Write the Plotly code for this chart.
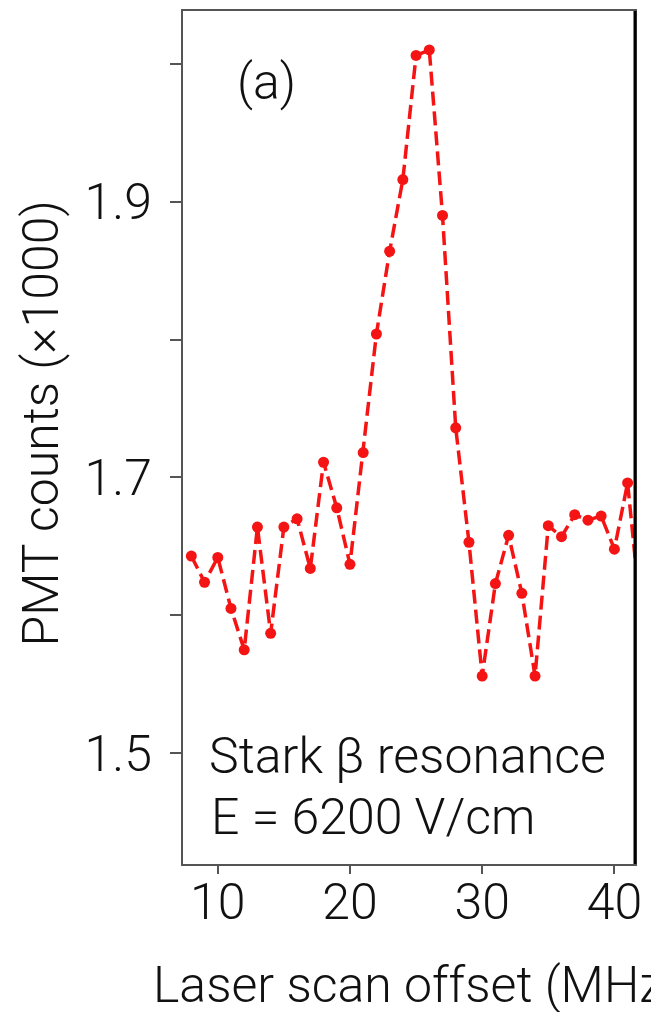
import plotly.graph_objects as go

# Laser scan offset (MHz) and PMT counts (in thousands)
offset_mhz = [8, 9, 10, 11, 12, 13, 14, 15, 16, 17, 18, 19, 20, 21, 22, 23, 24, 25,
              26, 27, 28, 29, 30, 31, 32, 33, 34, 35, 36, 37, 38, 39, 40, 41, 42]
pmt_counts_k = [1.643, 1.624, 1.642, 1.605, 1.575, 1.664, 1.587, 1.664, 1.670, 1.634,
                1.711, 1.678, 1.637, 1.718, 1.804, 1.864, 1.916, 2.006, 2.010, 1.890,
                1.736, 1.653, 1.556, 1.623, 1.658, 1.616, 1.556, 1.665, 1.657, 1.673,
                1.669, 1.672, 1.648, 1.696, 1.600]

x_ticks = [10, 20, 30, 40]
y_ticks = [1.5, 1.6, 1.7, 1.8, 1.9, 2.0]
y_tick_text = ["1.5", "", "1.7", "", "1.9", ""]

FONT = "Roboto"
FSIZE = 50
RED = "#f51414"

fig = go.Figure()
fig.add_trace(go.Scatter(
    x=offset_mhz, y=pmt_counts_k,
    mode="lines+markers",
    line=dict(color=RED, width=3.5, dash="14px,6px"),
    marker=dict(color=RED, size=11),
    showlegend=False,
))

axis_common = dict(
    showline=True, linecolor="#555555", linewidth=2, mirror=True,
    ticks="outside", tickcolor="#555555", tickwidth=2,
    showgrid=False, zeroline=False,
    tickfont=dict(family=FONT, size=FSIZE, color="#111111", weight=300),
)

fig.update_xaxes(range=[7.37, 41.56], tickvals=x_ticks, ticklen=8,
                 ticklabelstandoff=-15, **axis_common)
fig.update_yaxes(range=[1.4197, 2.0382], tickvals=y_ticks, ticktext=y_tick_text,
                 ticklen=11, ticklabelstandoff=8, **axis_common)

# heavier right-hand frame edge
fig.add_shape(type="line", xref="paper", yref="paper", x0=1, x1=1, y0=0, y1=1,
              line=dict(color="#000000", width=3))

text_font = dict(family=FONT, size=FSIZE, color="#111111", weight=300)
fig.add_annotation(text="(a)", xref="paper", yref="paper", x=0, y=1,
                   xanchor="left", yanchor="top", xshift=52, yshift=-40,
                   showarrow=False, font=text_font)
fig.add_annotation(text="Stark β resonance", xref="paper", yref="paper", x=0, y=0,
                   xanchor="left", yanchor="middle", xshift=24, yshift=108,
                   showarrow=False, font=text_font)
fig.add_annotation(text="E = 6200 V/cm", xref="paper", yref="paper", x=0, y=0,
                   xanchor="left", yanchor="middle", xshift=26, yshift=47,
                   showarrow=False, font=text_font)
fig.add_annotation(text="PMT counts (×1000)", xref="paper", yref="paper", x=0, y=0.5,
                   xanchor="center", yanchor="middle", xshift=-143, yshift=14,
                   textangle=-90, showarrow=False, font=text_font)
fig.add_annotation(text="Laser scan offset (MHz)", xref="paper", yref="paper", x=0.5, y=0,
                   xanchor="center", yanchor="middle", xshift=7, yshift=-121,
                   showarrow=False, font=text_font)

fig.update_layout(
    width=651, height=1012,
    margin=dict(l=183, r=13, t=9, b=148),
    paper_bgcolor="white", plot_bgcolor="white",
)

fig.write_html("out.html")
